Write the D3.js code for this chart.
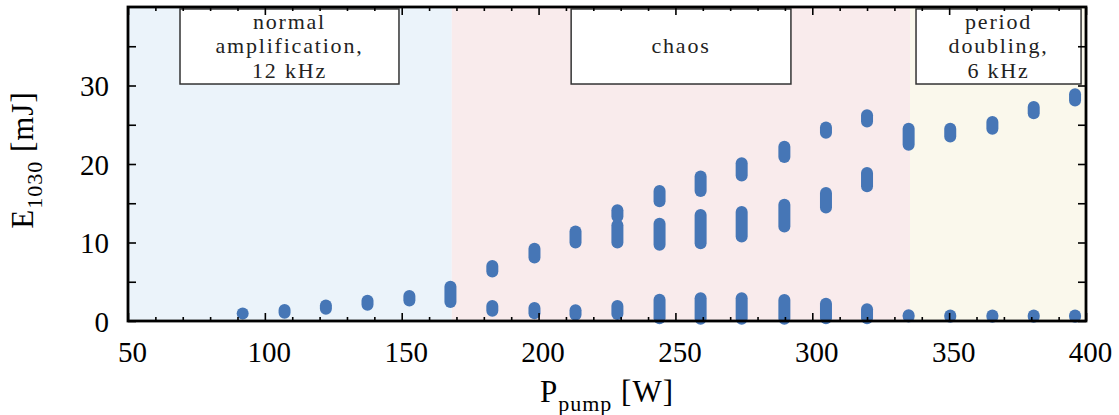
<!DOCTYPE html>
<html>
<head>
<meta charset="utf-8">
<script src="https://cdn.jsdelivr.net/npm/d3@7"></script>
<style>
  html, body { margin: 0; padding: 0; background: #fff; }
  svg, svg text { font-family: "Liberation Serif", "DejaVu Serif", "Times New Roman", serif !important; }
</style>
</head>
<body>
<svg id="chart" width="1119" height="415"></svg>
<script>
// Pump power of each measurement [W]
const pumpPower = [91.9, 107.2, 122.3, 137.5, 152.8, 167.8, 183.1, 198.5, 213.5, 228.8,
                   244.2, 259.2, 274.2, 289.8, 305.0, 320.0, 335.2, 350.4, 365.8, 380.9, 396.0];

// Spread of the output pulse energy [mJ] per branch: [min, max], null where the branch is absent
const lowBranch = [[0.95, 0.95], [1.05, 1.4], [1.57, 1.99], [2.07, 2.58], [2.6, 3.2], [2.43, 4.37],
                   [1.32, 1.92], [1.0, 1.65], [0.8, 1.36], [0.9, 1.9], [0.35, 2.7], [0.3, 2.9],
                   [0.3, 2.9], [0.3, 2.67], [0.35, 2.2], [0.35, 1.5], [0.57, 0.74], [0.55, 0.7],
                   [0.55, 0.7], [0.55, 0.7], [0.55, 0.7]];
const midBranch = [null, null, null, null, null, null,
                   [6.3, 7.0], [8.1, 9.2], [10.0, 11.4], [10.0, 12.2], [9.7, 12.4], [9.9, 13.5],
                   [10.75, 13.9], [12.05, 14.8], [14.45, 16.3], [17.15, 18.85],
                   null, null, null, null, null];
const topBranch = [null, null, null, null, null, null, null, null, null,
                   [13.3, 14.1], [15.25, 16.55], [16.55, 18.4], [18.55, 20.1], [20.9, 22.2],
                   [23.97, 24.65], [25.4, 26.2], [22.45, 24.5], [23.5, 24.5], [24.5, 25.36],
                   [26.47, 27.27], [28.1, 28.9]];

// Operating regimes along the pump axis [W]
const regimeEdges = [50, 168.3, 335.7, 400];
const regimeColors = ["#ebf3fa", "#f9ebec", "#faf8ec"];
const regimeLabels = [["normal", "amplification,", "12 kHz"], ["chaos"], ["period", "doubling,", "6 kHz"]];

// Axis ticks
const xTickValues = [50, 100, 150, 200, 250, 300, 350, 400];
const xMinorTicks = d3.range(60, 400, 10).filter(v => v % 50 !== 0);
const yTickValues = [0, 10, 20, 30];
const yAllTicks = [0, 5, 10, 15, 20, 25, 30, 35];

// ---- layout ----
const W = 1119, H = 415;
const plot = { left: 128, right: 1086, top: 7, bottom: 321 };
const serif = '"Liberation Serif", "DejaVu Serif", "Times New Roman", serif';
const markerColor = "#4676b6";
const markerD = 12;

const svg = d3.select("#chart");
svg.append("rect").attr("width", W).attr("height", H).attr("fill", "#fff");

const x = d3.scaleLinear().domain([50, 400]).range([plot.left, plot.right]);
const y = d3.scaleLinear().domain([0, 40]).range([plot.bottom, plot.top]);

// regime shading
svg.append("g").selectAll("rect")
  .data(regimeColors)
  .join("rect")
  .attr("x", (d, i) => x(regimeEdges[i]))
  .attr("width", (d, i) => x(regimeEdges[i + 1]) - x(regimeEdges[i]))
  .attr("y", y(40))
  .attr("height", y(0) - y(40))
  .attr("fill", d => d);

// measured energy spreads as capsules
const spans = [];
[lowBranch, midBranch, topBranch].forEach(branch => {
  branch.forEach((r, i) => { if (r) spans.push({ p: pumpPower[i], lo: r[0], hi: r[1] }); });
});
svg.append("g").selectAll("rect")
  .data(spans)
  .join("rect")
  .attr("x", d => x(d.p) - markerD / 2)
  .attr("y", d => y(d.hi) - markerD / 2)
  .attr("width", markerD)
  .attr("height", d => y(d.lo) - y(d.hi) + markerD)
  .attr("rx", markerD / 2)
  .attr("ry", markerD / 2)
  .attr("fill", markerColor);

// regime annotation boxes (extent in data units)
const boxes = [
  { x0: 69.0, x1: 149.0 },
  { x0: 211.9, x1: 292.2 },
  { x0: 337.9, x1: 398.2 }
];
const boxTop = 39.75, boxBottom = 30.19;
const lineStep = 24.5;
const gBox = svg.append("g");
boxes.forEach((b, i) => {
  const bx0 = x(b.x0), bx1 = x(b.x1), by0 = y(boxTop), by1 = y(boxBottom);
  gBox.append("rect")
    .attr("x", bx0).attr("y", by0)
    .attr("width", bx1 - bx0).attr("height", by1 - by0)
    .attr("fill", "#fff").attr("stroke", "#333").attr("stroke-width", 1.5);
  const lines = regimeLabels[i];
  const cx = (bx0 + bx1) / 2;
  const firstBase = (by0 + by1) / 2 + 7 - (lines.length - 1) / 2 * lineStep;
  const t = gBox.append("text")
    .attr("text-anchor", "middle")
    .style("font-family", serif)
    .attr("font-size", 22)
    .attr("letter-spacing", 1.8)
    .attr("fill", "#222");
  lines.forEach((s, k) => {
    t.append("tspan").attr("x", cx).attr("y", firstBase + k * lineStep).text(s);
  });
});

// ticks on all four sides, pointing inward
const tickStyle = g => g.call(s => s.select(".domain").remove())
  .call(s => s.selectAll("line").attr("stroke", "#000").attr("stroke-width", 1.6));

svg.append("g").attr("transform", `translate(0,${plot.bottom})`)
  .call(d3.axisBottom(x).tickValues(xMinorTicks).tickSize(-4).tickFormat(""))
  .call(tickStyle);
svg.append("g").attr("transform", `translate(0,${plot.top})`)
  .call(d3.axisTop(x).tickValues(xMinorTicks).tickSize(-4).tickFormat(""))
  .call(tickStyle);
svg.append("g").attr("transform", `translate(0,${plot.top})`)
  .call(d3.axisTop(x).tickValues(xTickValues).tickSize(-8).tickFormat(""))
  .call(tickStyle);
svg.append("g").attr("transform", `translate(${plot.right},0)`)
  .call(d3.axisRight(y).tickValues(yAllTicks).tickSize(-8).tickFormat(""))
  .call(tickStyle);
svg.append("g").attr("transform", `translate(${plot.left},0)`)
  .call(d3.axisLeft(y).tickValues(yAllTicks).tickSize(-8).tickFormat(""))
  .call(tickStyle);

const xAxis = svg.append("g").attr("transform", `translate(0,${plot.bottom})`)
  .call(d3.axisBottom(x).tickValues(xTickValues).tickSize(-8).tickFormat(d3.format("d")))
  .call(tickStyle)
  .attr("font-family", null).attr("font-size", null);
xAxis.selectAll("text")
  .attr("y", 41).attr("dy", 0).attr("x", 4)
  .style("font-family", serif).attr("font-size", 29).attr("fill", "#000");

const yAxis = svg.append("g").attr("transform", `translate(${plot.left},0)`)
  .call(d3.axisLeft(y).tickValues(yTickValues).tickSize(0).tickFormat(d3.format("d")))
  .call(s => s.select(".domain").remove())
  .attr("font-family", null).attr("font-size", null);
yAxis.selectAll("text")
  .attr("x", -19).attr("dy", "0.35em")
  .style("font-family", serif).attr("font-size", 29).attr("fill", "#000");

// frame
svg.append("rect")
  .attr("x", plot.left).attr("y", plot.top)
  .attr("width", plot.right - plot.left).attr("height", plot.bottom - plot.top)
  .attr("fill", "none").attr("stroke", "#000").attr("stroke-width", 2.8);

// axis titles
const xt = svg.append("text")
  .attr("x", (plot.left + plot.right) / 2).attr("y", 402)
  .attr("text-anchor", "middle").style("font-family", serif)
  .attr("font-size", 31).attr("letter-spacing", 1).attr("fill", "#000");
xt.append("tspan").text("P");
xt.append("tspan").attr("font-size", 22).attr("dy", 9).text("pump");
xt.append("tspan").attr("dy", -9).text(" [W]");

const yt = svg.append("text")
  .attr("transform", `translate(33,${(plot.top + plot.bottom) / 2 - 4}) rotate(-90)`)
  .attr("text-anchor", "middle").style("font-family", serif)
  .attr("font-size", 31).attr("letter-spacing", 1).attr("fill", "#000");
yt.append("tspan").text("E");
yt.append("tspan").attr("font-size", 22).attr("dy", 9).text("1030");
yt.append("tspan").attr("dy", -9).text(" [mJ]");
</script>
</body>
</html>
